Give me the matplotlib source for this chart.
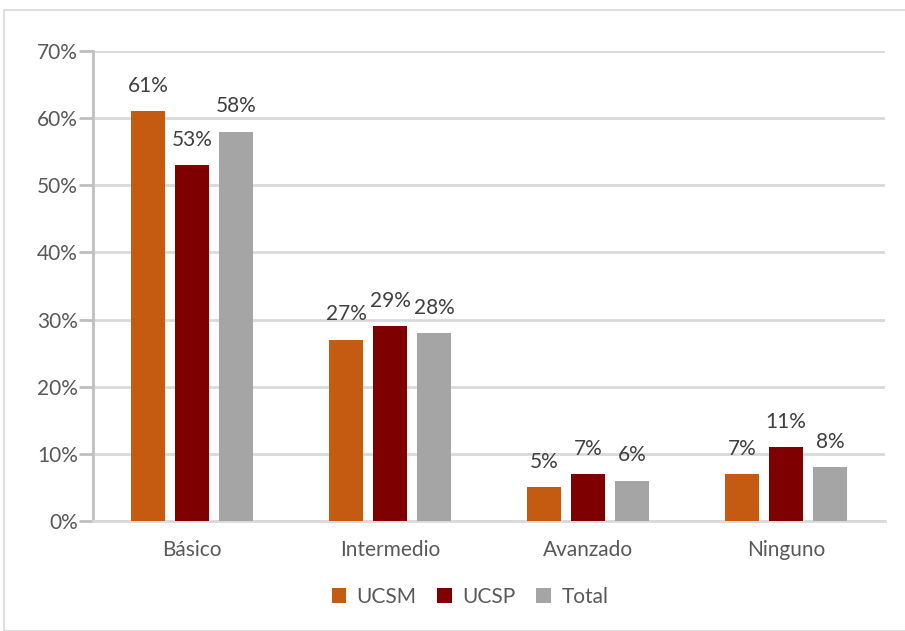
import numpy as np
import matplotlib.pyplot as plt
from matplotlib.patches import Rectangle

# datos
categorias = ['Básico', 'Intermedio', 'Avanzado', 'Ninguno']
series = ['UCSM', 'UCSP', 'Total']
ucsm = [0.61, 0.27, 0.05, 0.07]
ucsp = [0.53, 0.29, 0.07, 0.11]
total = [0.58, 0.28, 0.06, 0.08]
colores = ['#C55A11', '#7F0000', '#A5A5A5']

plt.rcParams['font.family'] = ['Lato', 'DejaVu Sans']

fig = plt.figure(figsize=(9.05, 6.31), dpi=100)
W, H = 905, 631
# marco exterior del grafico
fig.patches.append(Rectangle((4 / W, 0), 1, 1 - 10 / H, transform=fig.transFigure,
                             fill=False, edgecolor='#D9D9D9', linewidth=1.2))

ax = fig.add_axes([93 / W, 1 - 521 / H, (885 - 93) / W, (521 - 51) / H])

x = np.arange(len(categorias))
ancho = 0.175
paso = 0.222
fs = 15
for i, (nombre, vals) in enumerate(zip(series, [ucsm, ucsp, total])):
    pos = x + (i - 1) * paso
    barras = ax.bar(pos, vals, width=ancho, color=colores[i], label=nombre, zorder=3)
    for b, v in zip(barras, vals):
        ax.annotate(f'{v * 100:.0f}%', (b.get_x() + b.get_width() / 2, v),
                    xytext=(0, 11), textcoords='offset points', ha='center', va='bottom',
                    fontsize=fs, color='#404040')

ax.set_xlim(-0.5, 3.5)
ax.set_ylim(0, 0.70)
ax.set_yticks(np.arange(0, 0.71, 0.10))
ax.set_yticklabels([f'{t}%' for t in range(0, 71, 10)])
ax.set_xticks(x)
ax.set_xticklabels(categorias)
ax.grid(axis='y', color='#D9D9D9', linewidth=2, zorder=0)
ax.tick_params(axis='y', length=10, width=2, color='#BFBFBF', labelsize=fs,
               labelcolor='#595959', pad=1)
ax.tick_params(axis='x', length=0, labelsize=fs, labelcolor='#595959', pad=14)
for s in ['top', 'right']:
    ax.spines[s].set_visible(False)
ax.spines['left'].set_color('#BFBFBF')
ax.spines['left'].set_linewidth(2)
ax.spines['bottom'].set_color('#D9D9D9')
ax.spines['bottom'].set_linewidth(2)

ax.legend(loc='center', bbox_to_anchor=(470 / W, 1 - 597 / H), bbox_transform=fig.transFigure,
          ncol=3, frameon=False, fontsize=fs, labelcolor='#595959',
          handlelength=0.7, handleheight=0.7, handletextpad=0.5, columnspacing=1.0)

fig.savefig('out.png', dpi=100)
